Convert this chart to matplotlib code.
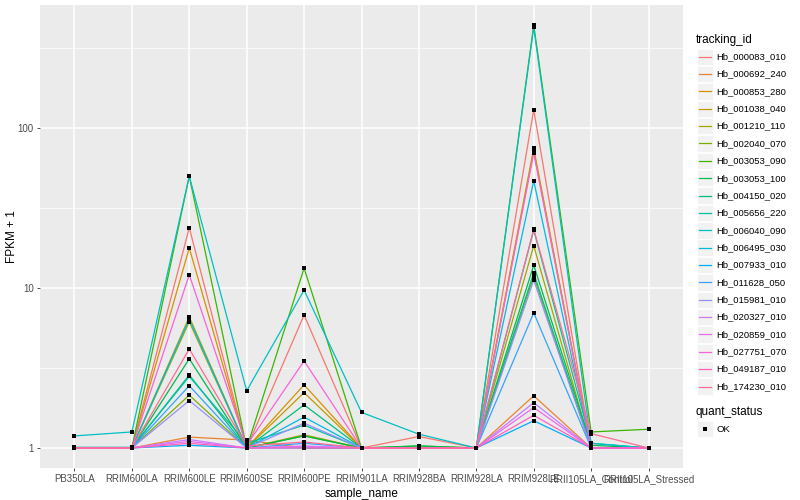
import matplotlib
matplotlib.use("Agg")
import matplotlib.pyplot as plt
from matplotlib.patches import Rectangle
from matplotlib.lines import Line2D
from matplotlib.ticker import FixedLocator, NullFormatter

plt.rcParams['font.family'] = ['Liberation Sans', 'DejaVu Sans']

samples = ["PB350LA", "RRIM600LA", "RRIM600LE", "RRIM600SE", "RRIM600PE",
           "RRIM901LA", "RRIM928BA", "RRIM928LA", "RRIM928LE",
           "RRII105LA_Control", "RRII105LA_Stressed"]

tracking_ids = ["Hb_000083_010", "Hb_000692_240", "Hb_000853_280", "Hb_001038_040",
                "Hb_001210_110", "Hb_002040_070", "Hb_003053_090", "Hb_003053_100",
                "Hb_004150_020", "Hb_005656_220", "Hb_006040_090", "Hb_006495_030",
                "Hb_007933_010", "Hb_011628_050", "Hb_015981_010", "Hb_020327_010",
                "Hb_020859_010", "Hb_027751_070", "Hb_049187_010", "Hb_174230_010"]

colors = ["#F8766D", "#EA8331", "#D89000", "#C09B00", "#A3A500", "#7CAE00",
          "#39B600", "#00BB4E", "#00BF7D", "#00C1A3", "#00BFC4", "#00BAE0",
          "#00B0F6", "#35A2FF", "#9590FF", "#C77CFF", "#E76BF3", "#FA62DB",
          "#FF62BC", "#FF6C91"]

# FPKM + 1, one list per tracking id, in sample order
fpkm = {
    "Hb_000083_010": [1.00, 1.00, 23.8, 1.00, 6.78, 1.00, 1.18, 1.00, 130.0, 1.00, 1.00],
    "Hb_000692_240": [1.00, 1.00, 1.17, 1.12, 1.00, 1.00, 1.00, 1.00, 2.12, 1.00, 1.00],
    "Hb_000853_280": [1.00, 1.00, 17.8, 1.00, 2.48, 1.00, 1.00, 1.00, 74.7, 1.00, 1.00],
    "Hb_001038_040": [1.00, 1.00, 6.6, 1.00, 2.22, 1.00, 1.00, 1.00, 72.0, 1.00, 1.00],
    "Hb_001210_110": [1.00, 1.00, 6.15, 1.00, 1.21, 1.00, 1.00, 1.00, 18.4, 1.00, 1.00],
    "Hb_002040_070": [1.00, 1.00, 2.14, 1.00, 1.19, 1.00, 1.00, 1.00, 11.8, 1.00, 1.00],
    "Hb_003053_090": [1.00, 1.00, 50.0, 1.00, 13.3, 1.00, 1.03, 1.00, 440.0, 1.26, 1.31],
    "Hb_003053_100": [1.00, 1.00, 3.61, 1.00, 1.19, 1.00, 1.03, 1.00, 13.9, 1.04, 1.00],
    "Hb_004150_020": [1.00, 1.00, 2.86, 1.00, 1.86, 1.00, 1.00, 1.00, 12.4, 1.00, 1.00],
    "Hb_005656_220": [1.01, 1.01, 2.80, 1.07, 1.39, 1.00, 1.00, 1.00, 23.0, 1.07, 1.00],
    "Hb_006040_090": [1.19, 1.26, 50.0, 2.28, 9.7, 1.67, 1.22, 1.00, 426.0, 1.07, 1.00],
    "Hb_006495_030": [1.00, 1.00, 6.4, 1.00, 1.56, 1.00, 1.00, 1.00, 46.8, 1.00, 1.00],
    "Hb_007933_010": [1.00, 1.00, 1.04, 1.00, 1.00, 1.00, 1.00, 1.00, 1.48, 1.00, 1.00],
    "Hb_011628_050": [1.00, 1.00, 2.45, 1.00, 1.07, 1.00, 1.00, 1.00, 7.0, 1.00, 1.00],
    "Hb_015981_010": [1.00, 1.00, 1.98, 1.00, 1.43, 1.00, 1.00, 1.00, 11.2, 1.00, 1.00],
    "Hb_020327_010": [1.00, 1.00, 1.13, 1.00, 1.03, 1.00, 1.00, 1.00, 1.92, 1.00, 1.00],
    "Hb_020859_010": [1.00, 1.00, 1.10, 1.00, 1.02, 1.00, 1.00, 1.00, 1.79, 1.00, 1.00],
    "Hb_027751_070": [1.00, 1.00, 12.1, 1.04, 3.5, 1.00, 1.00, 1.00, 69.5, 1.00, 1.00],
    "Hb_049187_010": [1.00, 1.00, 1.07, 1.00, 1.00, 1.00, 1.00, 1.00, 1.60, 1.00, 1.00],
    "Hb_174230_010": [1.00, 1.00, 4.16, 1.03, 1.09, 1.00, 1.00, 1.00, 23.3, 1.23, 1.00],
}

fig = plt.figure(figsize=(8, 5), dpi=100)
ax = fig.add_axes([40 / 800, 1 - 468 / 500, (683 - 40) / 800, (468 - 5) / 500])
ax.set_facecolor("#EBEBEB")

xs = list(range(len(samples)))
for tid, col in zip(tracking_ids, colors):
    ax.plot(xs, fpkm[tid], color=col, lw=0.9, zorder=3)
for tid in tracking_ids:
    ax.plot(xs, fpkm[tid], ls="none", marker="s", ms=3.0, mew=0,
            color="black", zorder=4)

ax.set_yscale("log")
ax.set_ylim(10 ** -0.125, 10 ** 2.769)
ax.set_xlim(-0.6, len(samples) - 0.4)

ax.yaxis.set_major_locator(FixedLocator([1, 10, 100]))
ax.set_yticklabels(["1", "10", "100"])
ax.yaxis.set_minor_locator(FixedLocator([10 ** 0.5, 10 ** 1.5, 10 ** 2.5]))
ax.yaxis.set_minor_formatter(NullFormatter())
ax.set_xticks(xs)
ax.set_xticklabels(samples)

ax.grid(which="major", color="white", lw=1.1, zorder=1)
ax.grid(which="minor", axis="y", color="white", lw=0.5, zorder=1)
ax.set_axisbelow(True)
for s in ax.spines.values():
    s.set_visible(False)
ax.tick_params(which="major", length=2.5, width=0.6, color="#333333",
               labelcolor="#4D4D4D", labelsize=7, pad=2)
ax.tick_params(which="minor", length=0)

ax.set_xlabel("sample_name", fontsize=8.5, labelpad=3)
ax.set_ylabel("FPKM + 1", fontsize=8.5)
ax.yaxis.set_label_coords(-0.034, 0.5)

# legend, ggplot style
def fx(px):
    return px / 800

def fy(py):
    return 1 - py / 500

fig.text(fx(696), fy(40.5), "tracking_id", fontsize=8.5, va="center", ha="left")
row = 17.36
for i, (tid, col) in enumerate(zip(tracking_ids, colors)):
    yc = 56.7 + i * row
    fig.patches.append(Rectangle((fx(696.5), fy(yc + 8.2)), fx(16.5), 16.4 / 500,
                                 transform=fig.transFigure, facecolor="#F2F2F2",
                                 edgecolor="white", lw=0.6))
    fig.lines.append(Line2D([fx(698.5), fx(711)], [fy(yc), fy(yc)],
                            transform=fig.transFigure, color=col, lw=0.9))
    fig.text(fx(716.5), fy(yc), tid, fontsize=6.8, va="center", ha="left")

fig.text(fx(696), fy(412.5), "quant_status", fontsize=8.5, va="center", ha="left")
fig.patches.append(Rectangle((fx(696.5), fy(429 + 8.2)), fx(16.5), 16.4 / 500,
                             transform=fig.transFigure, facecolor="#F2F2F2",
                             edgecolor="white", lw=0.6))
fig.lines.append(Line2D([fx(704.7)], [fy(429)], transform=fig.transFigure,
                        marker="s", ms=3.0, mew=0, color="black", ls="none"))
fig.text(fx(716.5), fy(429), "OK", fontsize=6.8, va="center", ha="left")

fig.savefig("out.png", dpi=100)
